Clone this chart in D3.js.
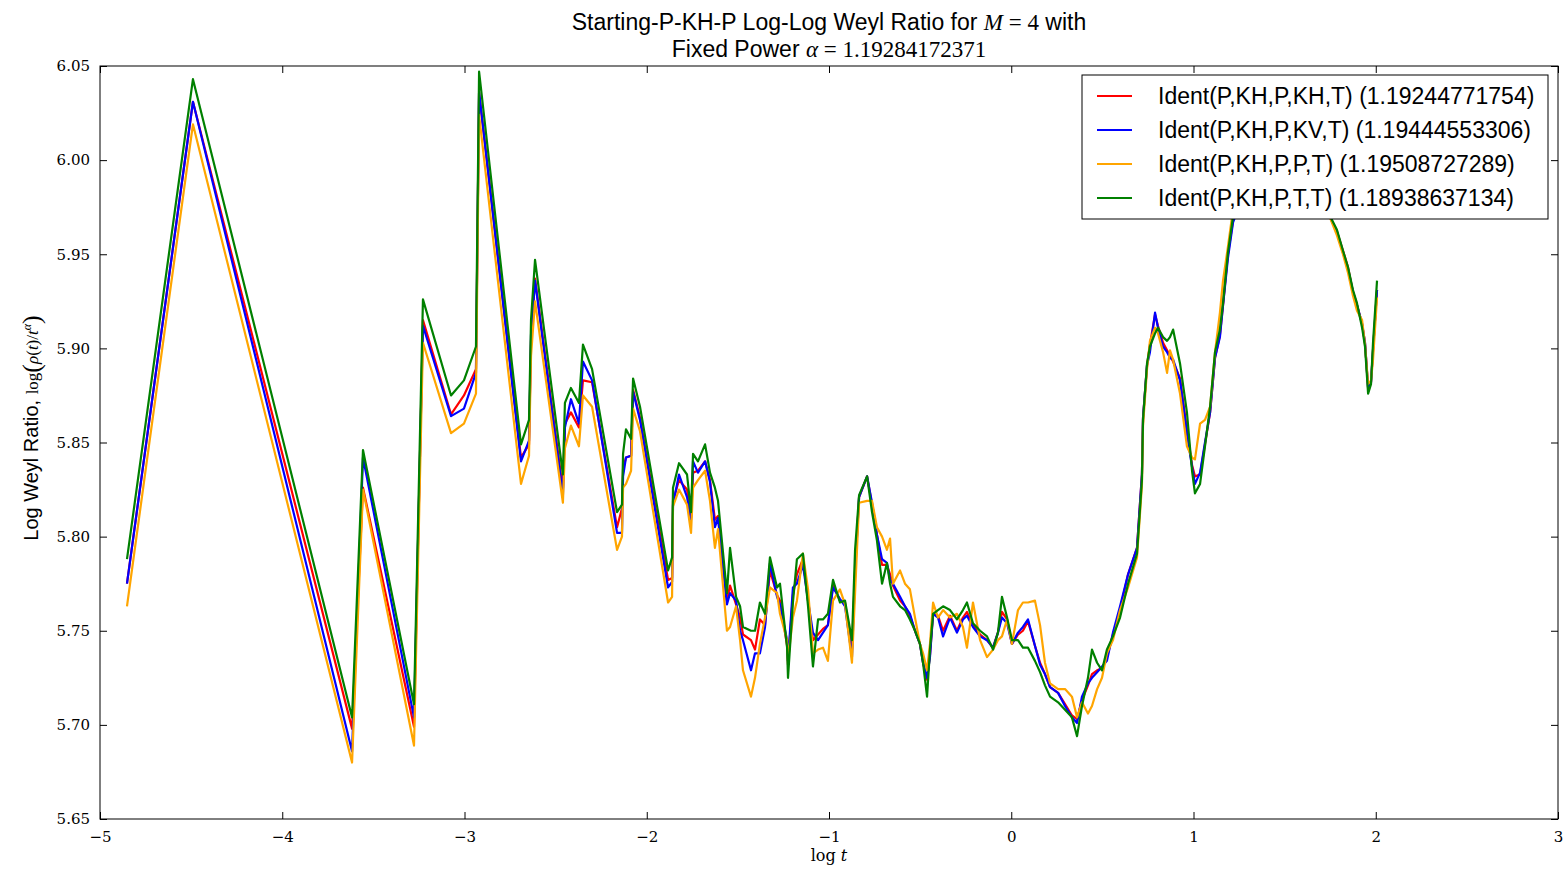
<!DOCTYPE html>
<html>
<head>
<meta charset="utf-8">
<script src="https://cdn.jsdelivr.net/npm/d3@7"></script>
<style>
  body { margin: 0; background: #fff; }
  text { fill: #000; }
  .tick-lbl { font-family: "DejaVu Serif", "Liberation Serif", serif; font-size: 15px; }
  .sans { font-family: "Liberation Sans", Arial, sans-serif; }
  .serif { font-family: "DejaVu Serif", "Liberation Serif", serif; }
  .mserif { font-family: "Liberation Serif", "DejaVu Serif", serif; }
</style>
</head>
<body>
<div id="chart"></div>
<script>
var width = 1567, height = 869,
    margin = {top: 66, right: 9, bottom: 50, left: 100};

// log t samples (shared by the four runs)
var logT = [-4.852,-4.490,-3.617,-3.557,-3.277,-3.228,-3.074,-3.003,-2.937,-2.920,
  -2.690,-2.646,-2.635,-2.613,-2.460,-2.449,-2.416,-2.372,-2.350,-2.300,
  -2.163,-2.136,-2.130,-2.114,-2.086,-2.075,-2.037,-1.883,-1.861,-1.856,
  -1.823,-1.779,-1.757,-1.746,-1.719,-1.680,-1.653,-1.626,-1.609,-1.560,
  -1.543,-1.510,-1.488,-1.472,-1.428,-1.406,-1.379,-1.351,-1.324,-1.285,
  -1.269,-1.230,-1.225,-1.198,-1.176,-1.143,-1.115,-1.088,-1.060,-1.033,
  -1.006,-0.978,-0.940,-0.912,-0.874,-0.857,-0.835,-0.791,-0.764,-0.737,
  -0.709,-0.682,-0.665,-0.649,-0.610,-0.583,-0.556,-0.528,-0.501,-0.484,
  -0.462,-0.446,-0.429,-0.402,-0.374,-0.336,-0.298,-0.265,-0.243,-0.210,
  -0.171,-0.133,-0.100,-0.073,-0.051,-0.023,0.004,0.037,0.064,0.092,
  0.130,0.158,0.185,0.213,0.257,0.295,0.333,0.361,0.388,0.421,
  0.443,0.471,0.498,0.525,0.558,0.597,0.641,0.690,0.717,0.723,
  0.745,0.761,0.789,0.805,0.833,0.855,0.871,0.888,0.926,0.964,
  0.992,1.008,1.036,1.063,1.091,1.118,1.145,1.162,1.189,1.217,
  1.310,1.447,1.584,1.694,1.787,1.820,1.848,1.875,1.897,1.925,
  1.941,1.958,1.974,1.985,2.007];

// Ident(P,KH,P,KH,T)
var ratioKH = [5.775,6.031,5.698,5.826,5.699,5.915,5.865,5.875,5.889,6.036,
  5.842,5.849,5.904,5.937,5.825,5.860,5.866,5.858,5.883,5.882,
  5.805,5.815,5.836,5.842,5.843,5.878,5.863,5.777,5.778,5.819,
  5.830,5.825,5.810,5.834,5.835,5.840,5.830,5.809,5.811,5.766,
  5.774,5.764,5.757,5.748,5.745,5.740,5.756,5.753,5.782,5.769,
  5.766,5.742,5.732,5.769,5.780,5.788,5.766,5.745,5.748,5.751,
  5.753,5.774,5.766,5.765,5.740,5.782,5.821,5.832,5.817,5.801,
  5.785,5.785,5.780,5.774,5.766,5.763,5.758,5.750,5.743,5.733,
  5.724,5.737,5.759,5.758,5.750,5.758,5.750,5.757,5.760,5.753,
  5.748,5.745,5.741,5.749,5.760,5.756,5.743,5.748,5.750,5.755,
  5.742,5.733,5.727,5.720,5.717,5.711,5.705,5.703,5.713,5.721,
  5.727,5.729,5.730,5.736,5.748,5.761,5.780,5.794,5.833,5.863,
  5.891,5.902,5.918,5.912,5.903,5.899,5.896,5.893,5.884,5.857,
  5.838,5.832,5.833,5.849,5.866,5.895,5.907,5.923,5.950,5.968,
  5.991,6.004,5.997,5.981,5.962,5.952,5.943,5.930,5.923,5.913,
  5.903,5.879,5.882,5.899,5.931];

// Ident(P,KH,P,KV,T)
var ratioKV = [5.775,6.031,5.686,5.842,5.704,5.912,5.864,5.868,5.887,6.036,
  5.840,5.851,5.907,5.936,5.822,5.858,5.873,5.860,5.893,5.883,
  5.802,5.802,5.832,5.842,5.843,5.877,5.862,5.773,5.776,5.817,
  5.833,5.821,5.809,5.840,5.834,5.840,5.829,5.805,5.810,5.764,
  5.770,5.766,5.750,5.745,5.729,5.738,5.738,5.752,5.786,5.768,
  5.764,5.745,5.734,5.773,5.775,5.785,5.766,5.749,5.745,5.749,
  5.753,5.773,5.767,5.763,5.736,5.780,5.821,5.832,5.818,5.801,
  5.788,5.786,5.777,5.775,5.768,5.763,5.759,5.750,5.743,5.733,
  5.725,5.736,5.759,5.757,5.747,5.757,5.749,5.756,5.758,5.752,
  5.747,5.745,5.741,5.749,5.757,5.754,5.743,5.749,5.752,5.756,
  5.742,5.732,5.727,5.720,5.717,5.710,5.704,5.701,5.715,5.722,
  5.725,5.728,5.731,5.734,5.749,5.763,5.780,5.794,5.833,5.863,
  5.891,5.898,5.919,5.911,5.901,5.898,5.895,5.894,5.883,5.855,
  5.837,5.828,5.834,5.850,5.866,5.895,5.906,5.923,5.948,5.967,
  5.991,6.004,5.997,5.981,5.962,5.951,5.942,5.930,5.923,5.913,
  5.903,5.879,5.882,5.899,5.931];

// Ident(P,KH,P,P,T)
var ratioPP = [5.763,6.019,5.680,5.825,5.689,5.903,5.855,5.860,5.876,6.024,
  5.828,5.843,5.896,5.925,5.818,5.847,5.859,5.848,5.875,5.869,
  5.793,5.800,5.826,5.828,5.835,5.868,5.856,5.765,5.768,5.816,
  5.825,5.817,5.802,5.826,5.830,5.835,5.819,5.794,5.804,5.750,
  5.752,5.763,5.745,5.729,5.715,5.725,5.743,5.757,5.773,5.770,
  5.759,5.745,5.734,5.757,5.766,5.791,5.772,5.738,5.740,5.741,
  5.734,5.766,5.772,5.764,5.733,5.770,5.818,5.819,5.819,5.805,
  5.800,5.793,5.799,5.775,5.782,5.775,5.772,5.757,5.743,5.738,
  5.729,5.743,5.765,5.757,5.761,5.757,5.759,5.752,5.741,5.765,
  5.745,5.736,5.740,5.745,5.747,5.756,5.743,5.761,5.765,5.765,
  5.766,5.753,5.733,5.722,5.719,5.719,5.715,5.704,5.712,5.706,
  5.710,5.719,5.725,5.738,5.745,5.761,5.773,5.789,5.827,5.859,
  5.889,5.904,5.911,5.908,5.898,5.887,5.899,5.894,5.876,5.848,
  5.842,5.841,5.860,5.862,5.869,5.898,5.919,5.936,5.954,5.974,
  5.995,6.005,5.999,5.983,5.960,5.950,5.940,5.928,5.920,5.915,
  5.902,5.881,5.883,5.894,5.927];

// Ident(P,KH,P,T,T)
var ratioTT = [5.788,6.043,5.704,5.846,5.711,5.926,5.875,5.883,5.901,6.047,
  5.849,5.862,5.915,5.947,5.833,5.871,5.879,5.871,5.902,5.889,
  5.813,5.817,5.844,5.857,5.852,5.884,5.869,5.782,5.789,5.826,
  5.839,5.833,5.813,5.844,5.840,5.849,5.834,5.826,5.819,5.770,
  5.794,5.768,5.763,5.752,5.750,5.750,5.765,5.759,5.789,5.773,
  5.775,5.741,5.725,5.765,5.788,5.791,5.763,5.731,5.756,5.756,
  5.759,5.777,5.765,5.766,5.745,5.793,5.822,5.832,5.813,5.798,
  5.775,5.786,5.775,5.768,5.763,5.761,5.756,5.750,5.743,5.733,
  5.715,5.740,5.759,5.761,5.763,5.761,5.756,5.761,5.765,5.754,
  5.750,5.747,5.740,5.749,5.768,5.757,5.745,5.745,5.741,5.741,
  5.734,5.728,5.721,5.715,5.712,5.708,5.704,5.694,5.710,5.725,
  5.740,5.733,5.729,5.740,5.747,5.757,5.775,5.791,5.830,5.862,
  5.892,5.901,5.908,5.911,5.906,5.904,5.906,5.910,5.892,5.866,
  5.835,5.823,5.828,5.848,5.869,5.898,5.910,5.924,5.951,5.970,
  5.992,6.005,5.997,5.981,5.963,5.952,5.943,5.931,5.924,5.911,
  5.901,5.876,5.881,5.903,5.936];

var seriesNames = ["Ident(P,KH,P,KH,T)", "Ident(P,KH,P,KV,T)", "Ident(P,KH,P,P,T)", "Ident(P,KH,P,T,T)"];
var seriesPowers = ["1.19244771754", "1.19444553306", "1.19508727289", "1.18938637134"];
var seriesColors = ["#ff0000", "#0000ff", "#ffa500", "#008000"];
var seriesValues = [ratioKH, ratioKV, ratioPP, ratioTT];

var xTicks = [-5, -4, -3, -2, -1, 0, 1, 2, 3];
var yTicks = [5.65, 5.70, 5.75, 5.80, 5.85, 5.90, 5.95, 6.00, 6.05];

var svg = d3.select("#chart")
  .append("svg")
    .attr("width", width)
    .attr("height", height);

var x = d3.scaleLinear().domain([-5, 3]).range([margin.left, width - margin.right]);
var y = d3.scaleLinear().domain([5.65, 6.05]).range([height - margin.bottom, margin.top]);

svg.append("clipPath").attr("id", "plot-clip")
  .append("rect")
    .attr("x", x(-5)).attr("y", y(6.05))
    .attr("width", x(3) - x(-5)).attr("height", y(5.65) - y(6.05));

var line = d3.line()
  .x(function(d) { return x(d[0]); })
  .y(function(d) { return y(d[1]); });

var lines = svg.append("g").attr("clip-path", "url(#plot-clip)");
seriesValues.forEach(function(vals, i) {
  lines.append("path")
    .datum(logT.map(function(t, j) { return [t, vals[j]]; }))
    .attr("d", line)
    .attr("fill", "none")
    .attr("stroke", seriesColors[i])
    .attr("stroke-width", 2.2)
    .attr("stroke-linejoin", "round");
});

// axes: ticks inside on all four sides, matplotlib style
var tickLen = 7;
var fmtX = function(d) { return d < 0 ? "\u2212" + Math.abs(d) : String(d); };

svg.append("g")
    .attr("transform", "translate(0," + y(5.65) + ")")
    .call(d3.axisBottom(x).tickValues(xTicks).tickSizeInner(-tickLen).tickSizeOuter(0).tickPadding(12).tickFormat(fmtX))
    .call(function(g) { g.select(".domain").remove(); g.selectAll("text").attr("class", "tick-lbl").attr("fill", "#000"); });
svg.append("g")
    .attr("transform", "translate(0," + y(6.05) + ")")
    .call(d3.axisTop(x).tickValues(xTicks).tickSizeInner(-tickLen).tickSizeOuter(0).tickFormat(""))
    .call(function(g) { g.select(".domain").remove(); });
svg.append("g")
    .attr("transform", "translate(" + x(-5) + ",0)")
    .call(d3.axisLeft(y).tickValues(yTicks).tickSizeInner(-tickLen).tickSizeOuter(0).tickPadding(10).tickFormat(d3.format(".2f")))
    .call(function(g) { g.select(".domain").remove(); g.selectAll("text").attr("class", "tick-lbl").attr("fill", "#000"); });
svg.append("g")
    .attr("transform", "translate(" + x(3) + ",0)")
    .call(d3.axisRight(y).tickValues(yTicks).tickSizeInner(-tickLen).tickSizeOuter(0).tickFormat(""))
    .call(function(g) { g.select(".domain").remove(); });

svg.append("rect")
    .attr("x", x(-5)).attr("y", y(6.05))
    .attr("width", x(3) - x(-5)).attr("height", y(5.65) - y(6.05))
    .attr("fill", "none").attr("stroke", "#000").attr("stroke-width", 1);

// title
var cx = (x(-5) + x(3)) / 2;
var t1 = svg.append("text").attr("class", "sans").attr("x", cx).attr("y", 30)
  .attr("text-anchor", "middle").style("font-size", "23px");
t1.append("tspan").text("Starting-P-KH-P Log-Log Weyl Ratio for ");
t1.append("tspan").attr("class", "mserif").style("font-style", "italic").text("M");
t1.append("tspan").attr("class", "mserif").text(" = 4");
t1.append("tspan").text(" with");
var t2 = svg.append("text").attr("class", "sans").attr("x", cx).attr("y", 57)
  .attr("text-anchor", "middle").style("font-size", "23px");
t2.append("tspan").text("Fixed Power ");
t2.append("tspan").attr("class", "mserif").style("font-style", "italic").text("\u03b1");
t2.append("tspan").attr("class", "mserif").text(" = 1.19284172371");

// axis labels
var xl = svg.append("text").attr("class", "serif").attr("x", cx).attr("y", 861)
  .attr("text-anchor", "middle").style("font-size", "16px");
xl.append("tspan").text("log ");
xl.append("tspan").style("font-style", "italic").text("t");

var yl = svg.append("text").attr("class", "sans")
  .attr("transform", "translate(38,428) rotate(-90)")
  .attr("text-anchor", "middle").style("font-size", "20px");
yl.append("tspan").text("Log Weyl Ratio, ");
yl.append("tspan").attr("class", "mserif").style("font-size", "17px").text("log");
yl.append("tspan").attr("class", "mserif").style("font-size", "26px").attr("dy", 2).text("(");
yl.append("tspan").attr("class", "mserif").style("font-style", "italic").style("font-size", "17px").attr("dy", -2).text("\u03c1");
yl.append("tspan").attr("class", "mserif").style("font-size", "17px").text("(");
yl.append("tspan").attr("class", "mserif").style("font-style", "italic").style("font-size", "17px").text("t");
yl.append("tspan").attr("class", "mserif").style("font-size", "17px").text(")/");
yl.append("tspan").attr("class", "mserif").style("font-style", "italic").style("font-size", "17px").text("t");
yl.append("tspan").attr("class", "mserif").style("font-style", "italic").style("font-size", "12px").attr("dy", -7).text("\u03b1");
yl.append("tspan").attr("class", "mserif").style("font-size", "26px").attr("dy", 9).text(")");

// legend
var lg = svg.append("g").attr("transform", "translate(1082,75)");
lg.append("rect").attr("width", 466).attr("height", 144)
  .attr("fill", "#fff").attr("stroke", "#000").attr("stroke-width", 1);
seriesNames.forEach(function(name, i) {
  var ry = 21 + i * 34;
  lg.append("line").attr("x1", 15).attr("x2", 50).attr("y1", ry).attr("y2", ry)
    .attr("stroke", seriesColors[i]).attr("stroke-width", 2);
  lg.append("text").attr("class", "sans").attr("x", 76).attr("y", ry)
    .attr("dy", "0.35em").style("font-size", "23px")
    .text(name + " (" + seriesPowers[i] + ")");
});
</script>
</body>
</html>
